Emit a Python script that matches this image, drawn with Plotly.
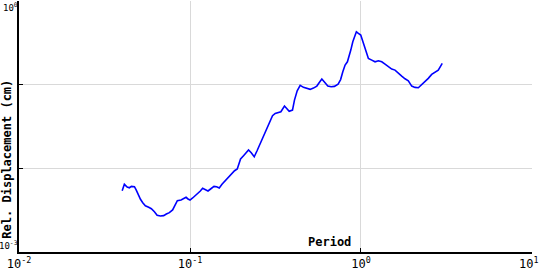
import plotly.graph_objects as go

period = [0.0401, 0.0413, 0.0429, 0.0442, 0.0454, 0.0473, 0.0484, 0.0497, 0.0513, 0.0529,
          0.0548, 0.0573, 0.0594, 0.0619, 0.0642, 0.0671, 0.0701, 0.0727, 0.0757, 0.0791,
          0.0813, 0.0843, 0.0886, 0.0918, 0.0948, 0.0973, 0.1000, 0.1036, 0.1074, 0.1114,
          0.1149, 0.1185, 0.1229, 0.1274, 0.1319, 0.1381, 0.1430, 0.1483, 0.1538, 0.1608,
          0.1681, 0.1759, 0.1822, 0.1889, 0.1922, 0.1975, 0.2056, 0.2132, 0.2199, 0.2281,
          0.2375, 0.2463, 0.2540, 0.2634, 0.2728, 0.2817, 0.2917, 0.3038, 0.3150, 0.3293,
          0.3400, 0.3569, 0.3686, 0.3802, 0.3975, 0.4083, 0.4235, 0.4409, 0.4609, 0.4824,
          0.5044, 0.5272, 0.5518, 0.5692, 0.5902, 0.6112, 0.6398, 0.6689, 0.6992, 0.7348,
          0.7600, 0.7829, 0.8075, 0.8330, 0.8522, 0.8719, 0.8957, 0.9151, 0.9400, 0.9656,
          0.997, 1.019, 1.047, 1.071, 1.105, 1.156, 1.209, 1.264, 1.323, 1.383,
          1.445, 1.513, 1.582, 1.654, 1.731, 1.810, 1.892, 1.981, 2.070, 2.165,
          2.265, 2.368, 2.476, 2.592, 2.710, 2.832, 2.988]

displacement = [0.00540, 0.00644, 0.00598, 0.00586, 0.00609, 0.00603, 0.00551, 0.00480, 0.00426, 0.00388,
                0.00357, 0.00342, 0.00329, 0.00303, 0.00275, 0.00269, 0.00272, 0.00284, 0.00295, 0.00318,
                0.00354, 0.00410, 0.00418, 0.00433, 0.00450, 0.00430, 0.00418, 0.00442, 0.00471, 0.00503,
                0.00536, 0.00577, 0.00555, 0.00536, 0.00566, 0.00609, 0.00603, 0.00581, 0.00644, 0.00711,
                0.00772, 0.00872, 0.00936, 0.00981, 0.01126, 0.01292, 0.01414, 0.01553, 0.01654, 0.01536,
                0.01376, 0.01610, 0.01847, 0.02178, 0.02570, 0.03006, 0.03575, 0.04249, 0.04541, 0.04617,
                0.04745, 0.05550, 0.05069, 0.04797, 0.04971, 0.06546, 0.08456, 0.09809, 0.09284, 0.09032,
                0.08787, 0.09107, 0.09623, 0.1054, 0.1167, 0.1074, 0.09623, 0.09438, 0.09543, 0.1017,
                0.1151, 0.1426, 0.1715, 0.1878, 0.2154, 0.2591, 0.3254, 0.3736, 0.4285, 0.4101,
                0.3913, 0.3412, 0.2892, 0.2366, 0.2062, 0.1967, 0.1878, 0.1930, 0.1878, 0.1762,
                0.1636, 0.1536, 0.1494, 0.1365, 0.1267, 0.1176, 0.1113, 0.09623, 0.09284, 0.09184,
                0.09972, 0.1083, 0.1189, 0.1328, 0.1403, 0.1494, 0.1797]

x_title = "Period"
y_title = "Rel. Displacement (cm)"
x_tick_vals = [0.01, 0.1, 1, 10]
x_tick_text = ["10<sup>-2</sup>", "10<sup>-1</sup>", "10<sup>0</sup>", ""]
x_last_label = "10<sup>1</sup>"
y_tick_vals = [0.001, 0.01, 0.1, 1]
y_tick_labels = ["10<sup>0</sup>", "10<sup>-3</sup>"]

FONT = "DejaVu Sans Mono"

fig = go.Figure()
fig.add_trace(go.Scatter(x=period, y=displacement, mode="lines",
                         line=dict(color="#0000ff", width=1.6), showlegend=False))

axis_common = dict(showline=True, linecolor="black", linewidth=1.5,
                   showgrid=True, gridcolor="#d9d9d9", gridwidth=1,
                   ticks="inside", ticklen=4, tickcolor="black", zeroline=False,
                   automargin=False)

fig.update_xaxes(type="log", range=[-2.0004, 1.0004], tickmode="array", tickvals=x_tick_vals,
                 ticktext=x_tick_text, ticklabeloverflow="allow",
                 tickfont=dict(family=FONT, size=12, color="black"), **axis_common)
fig.update_yaxes(type="log", range=[-3.0004, 0.0004], tickmode="array", tickvals=y_tick_vals,
                 showticklabels=False, **axis_common)

fig.add_annotation(text=x_last_label, xref="paper", yref="paper", x=1.0156, y=0,
                   xanchor="right", yanchor="top", yshift=-2, showarrow=False, borderpad=0,
                   font=dict(family=FONT, size=12, color="black"))
fig.add_annotation(text=y_tick_labels[0], xref="paper", yref="paper", x=0, y=1.004,
                   xanchor="right", yanchor="top", showarrow=False, borderpad=0,
                   font=dict(family=FONT, size=9, color="black"))
fig.add_annotation(text=y_tick_labels[1], xref="paper", yref="paper", x=0, y=0,
                   xanchor="right", yanchor="bottom", showarrow=False, borderpad=0,
                   font=dict(family=FONT, size=9, color="black"))
fig.add_annotation(text="<b>" + x_title + "</b>", xref="paper", yref="paper",
                   x=0.606, y=0.04, xanchor="center", yanchor="middle", showarrow=False,
                   font=dict(family=FONT, size=12, color="black"))
fig.add_annotation(text="<b>" + y_title + "</b>", xref="paper", yref="paper",
                   x=-0.0224, y=0.37, xanchor="center", yanchor="middle", textangle=-90,
                   showarrow=False, font=dict(family=FONT, size=12, color="black"))

fig.update_layout(width=540, height=270, margin=dict(l=19, r=8, t=1, b=18, autoexpand=False),
                  paper_bgcolor="white", plot_bgcolor="white")

fig.write_html("out.html")
